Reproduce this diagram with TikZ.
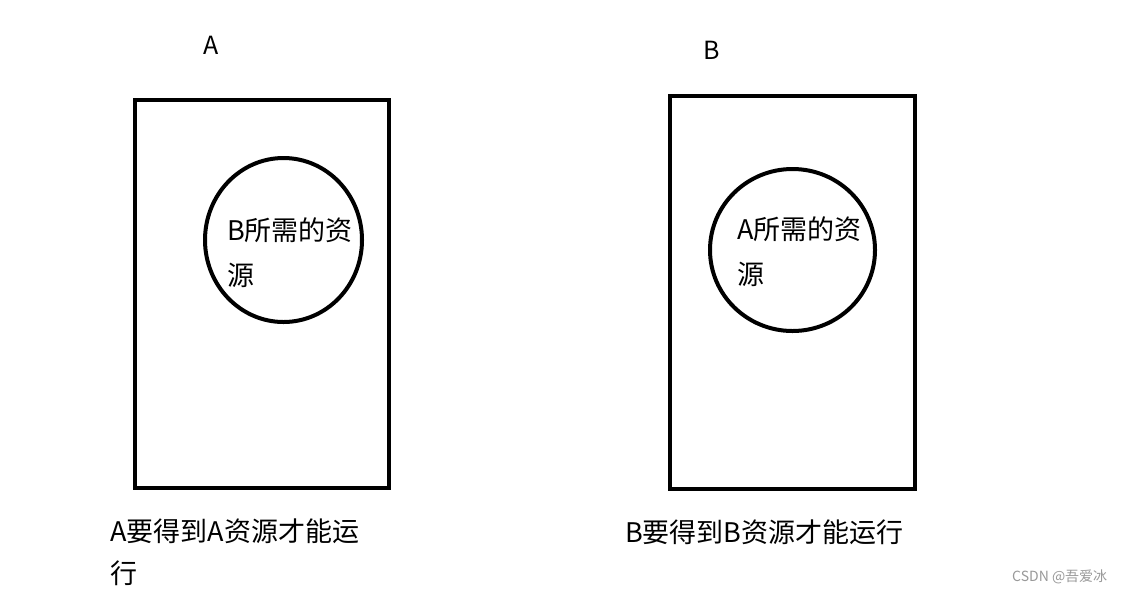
\documentclass[tikz,border=0pt]{standalone}
\usepackage{fontspec}
\setmainfont{Noto Sans CJK SC}
\usetikzlibrary{shapes.geometric, positioning}

\tikzset{
  procbox/.style={draw=black, line width=4pt, rectangle, inner sep=0pt},
  resring/.style={draw=black, line width=4pt, ellipse, inner sep=0pt},
  lbl/.style={anchor=base west, inner sep=0pt, font=\fontsize{27}{30}\selectfont},
  ttl/.style={anchor=base, inner sep=0pt, font=\fontsize{25}{28}\selectfont}
}

\begin{document}
\begin{tikzpicture}[x=1pt, y=-1pt]
  \useasboundingbox[fill=white] (0,0) rectangle (1139,592);

  % Process boxes
  \node[procbox, minimum width=254.5pt, minimum height=388pt] (boxA) at (261.75,294) {};
  \node[procbox, minimum width=245pt, minimum height=393.5pt] (boxB) at (792.5,292.25) {};

  % Resources held
  \node[resring, minimum width=157pt, minimum height=164pt] (resA) at (283.5,240) {};
  \node[resring, minimum width=165pt, minimum height=162pt] (resB) at (792.5,250) {};

  % Titles
  \node[ttl] (titleA) at (211,54) {A};
  \node[ttl] (titleB) at (712,59) {B};

  % Texts in the circles
  \node[lbl] (inA1) at (227,240) {B所需的资};
  \node[lbl] (inA2) at (227,285) {源};
  \node[lbl] (inB1) at (737,239) {A所需的资};
  \node[lbl] (inB2) at (737,284) {源};

  % Captions
  \node[lbl] (capA1) at (110,541) {A要得到A资源才能运};
  \node[lbl] (capA2) at (110,583) {行};
  \node[lbl] (capB) at (625,542) {B要得到B资源才能运行};

  % Watermark
  \node[lbl, font=\fontsize{14}{16}\selectfont, text=black!40] (wm) at (1012,581) {CSDN @吾爱冰};
\end{tikzpicture}
\end{document}
